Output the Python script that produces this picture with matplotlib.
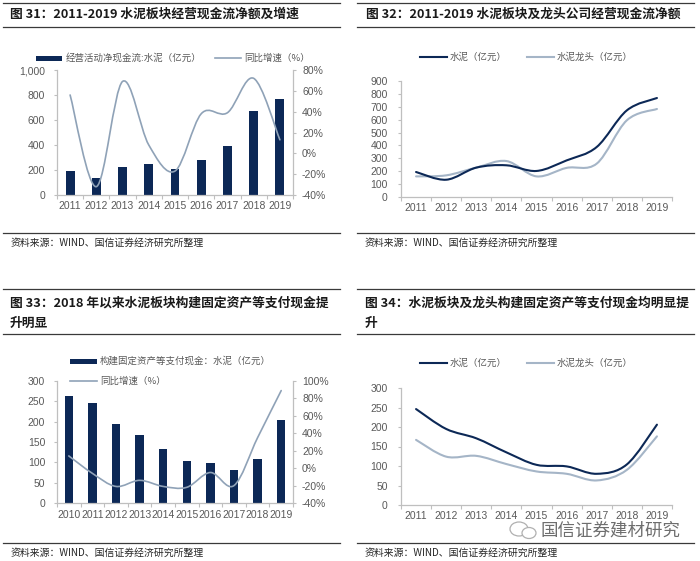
import numpy as np
import matplotlib
matplotlib.use("Agg")
import matplotlib.pyplot as plt
from matplotlib.path import Path
from matplotlib.patches import PathPatch, Rectangle, Ellipse
from matplotlib.lines import Line2D
from matplotlib.ticker import FuncFormatter, MultipleLocator

plt.rcParams['font.family'] = ['Liberation Sans', 'Noto Sans CJK SC', 'DejaVu Sans']

# ---------------- data ----------------
years_a = ['2011', '2012', '2013', '2014', '2015', '2016', '2017', '2018', '2019']
years_b = ['2010', '2011', '2012', '2013', '2014', '2015', '2016', '2017', '2018', '2019']

# Fig 31: operating net cash flow, cement sector (亿元) and YoY growth
ocf_cement = [195, 135, 228, 245, 205, 282, 392, 675, 765]
ocf_growth = [0.56, -0.32, 0.69, 0.08, -0.17, 0.38, 0.39, 0.72, 0.13]

# Fig 32: cement sector vs leaders operating net cash flow
ocf_sector = [194, 134, 228, 246, 202, 284, 388, 672, 768]
ocf_leader = [160, 168, 228, 279, 160, 226, 259, 595, 683]

# Fig 33: cash paid for fixed assets, cement (亿元) and YoY growth
capex_cement = [262, 246, 195, 168, 133, 104, 99, 80, 108, 205]
capex_growth = [0.14, -0.06, -0.21, -0.14, -0.21, -0.22, -0.05, -0.20, 0.35, 0.89]

# Fig 34: cement sector vs leaders capex cash
capex_sector = [246, 195, 171, 135, 103, 99, 80, 104, 206]
capex_leader = [167, 124, 126, 105, 86, 80, 63, 90, 176]

titles = {
    31: ["图 31：2011-2019 水泥板块经营现金流净额及增速"],
    32: ["图 32：2011-2019 水泥板块及龙头公司经营现金流净额"],
    33: ["图 33：2018 年以来水泥板块构建固定资产等支付现金提", "升明显"],
    34: ["图 34：水泥板块及龙头构建固定资产等支付现金均明显提", "升"],
}
source_text = "资料来源：WIND、国信证券经济研究所整理"
watermark = "国信证券建材研究"

# ---------------- style ----------------
W, H = 700, 561
NAVY = '#0C2856'
LIGHT = '#8FA2B7'
LIGHT2 = '#A5B5C7'
TXT = '#595959'
SPINE = '#BFBFBF'
CJK = ['Noto Sans CJK SC', 'DejaVu Sans']

fig = plt.figure(figsize=(W / 100, H / 100), dpi=100)
fig.patch.set_facecolor('white')


def fx(x):
    return x / W


def fy(y):
    return 1 - y / H


def add_axes(l, r, t, b):
    return fig.add_axes([fx(l), fy(b), (r - l) / W, (b - t) / H])


def hline(x0, x1, y, lw=0.9, color='#3A3A3A'):
    fig.add_artist(Line2D([fx(x0), fx(x1)], [fy(y), fy(y)], lw=lw, color=color,
                          transform=fig.transFigure))


def smooth_path(xs, ys):
    pts = np.column_stack([np.asarray(xs, float), np.asarray(ys, float)])
    n = len(pts)
    verts = [pts[0]]
    codes = [Path.MOVETO]
    for i in range(n - 1):
        p0 = pts[i - 1] if i > 0 else pts[i]
        p1 = pts[i]
        p2 = pts[i + 1]
        p3 = pts[i + 2] if i + 2 < n else pts[i + 1]
        c1 = p1 + (p2 - p0) / 6.0
        c2 = p2 - (p3 - p1) / 6.0
        verts += [c1, c2, p2]
        codes += [Path.CURVE4] * 3
    return Path(verts, codes)


def draw_smooth(ax, xs, ys, color, lw):
    ax.add_patch(PathPatch(smooth_path(xs, ys), fill=False, edgecolor=color,
                           lw=lw, capstyle='round', joinstyle='round', zorder=3))


def style_xaxis(ax, labels):
    n = len(labels)
    ax.set_xlim(-0.5, n - 0.5)
    ax.set_xticks(range(n))
    ax.set_xticklabels(labels)
    ax.set_xticks(np.arange(-0.5, n, 1.0), minor=True)
    ax.tick_params(axis='x', which='major', length=0, pad=4, labelsize=7.5, labelcolor=TXT)
    ax.tick_params(axis='x', which='minor', length=3, width=0.8, color=SPINE, direction='out')


def style_spines(ax, right=False):
    for s in ['top', 'right']:
        ax.spines[s].set_visible(False)
    for s in ['left', 'bottom']:
        ax.spines[s].set_color(SPINE)
        ax.spines[s].set_linewidth(0.9)
    ax.tick_params(axis='y', length=2.5, width=0.8, color=SPINE, pad=6,
                   labelsize=7.5, labelcolor=TXT, direction='out')
    ax.set_facecolor('none')


def titles_block(x0, x1, tx, key, two_line):
    if not two_line:
        hline(x0, x1, 2.5)
        fig.text(fx(tx), fy(14.5), titles[key][0], fontsize=9.2, fontweight='bold',
                 family=CJK, color='#1A1A1A', va='center', ha='left')
        hline(x0, x1, 27)
    else:
        hline(x0, x1, 289)
        fig.text(fx(tx), fy(303), titles[key][0], fontsize=9.2, fontweight='bold',
                 family=CJK, color='#1A1A1A', va='center', ha='left')
        fig.text(fx(tx), fy(323), titles[key][1], fontsize=9.2, fontweight='bold',
                 family=CJK, color='#1A1A1A', va='center', ha='left')
        hline(x0, x1, 334)


def source_block(x0, x1, y_line, y_text, tx):
    hline(x0, x1, y_line, lw=0.9)
    fig.text(fx(tx), fy(y_text), source_text, fontsize=7.1, family=CJK,
             color='#262626', va='center', ha='left')


def leg_line(x0, x1, y, color, lw, label, tx):
    fig.add_artist(Line2D([fx(x0), fx(x1)], [fy(y), fy(y)], lw=lw, color=color,
                          transform=fig.transFigure))
    fig.text(fx(tx), fy(y), label, fontsize=6.8, family=CJK, color=TXT,
             va='center', ha='left')


def leg_bar(x0, x1, y, label, tx):
    fig.add_artist(Rectangle((fx(x0), fy(y + 2.5)), (x1 - x0) / W, 5 / H,
                             facecolor=NAVY, edgecolor='none', transform=fig.transFigure))
    fig.text(fx(tx), fy(y), label, fontsize=6.8, family=CJK, color=TXT,
             va='center', ha='left')


pct_fmt = FuncFormatter(lambda v, p: f"{v * 100:.0f}%")
comma_fmt = FuncFormatter(lambda v, p: f"{v:,.0f}")

# ---------------- Fig 31 ----------------
titles_block(3, 340, 10, 31, False)
ax1 = add_axes(57, 293, 70, 195)
style_spines(ax1)
x = np.arange(len(years_a))
ax1.bar(x, ocf_cement, width=0.34, color=NAVY, zorder=2)
ax1.set_ylim(0, 1000)
ax1.yaxis.set_major_locator(MultipleLocator(200))
ax1.yaxis.set_major_formatter(comma_fmt)
style_xaxis(ax1, years_a)
ax1r = ax1.twinx()
ax1r.set_ylim(-0.4, 0.8)
ax1r.yaxis.set_major_locator(MultipleLocator(0.2))
ax1r.yaxis.set_major_formatter(pct_fmt)
for s in ['top', 'left', 'bottom']:
    ax1r.spines[s].set_visible(False)
ax1r.spines['right'].set_color(SPINE)
ax1r.spines['right'].set_linewidth(0.9)
ax1r.tick_params(axis='y', length=2.5, width=0.8, color=SPINE, pad=4,
                 labelsize=7.5, labelcolor=TXT)
draw_smooth(ax1r, x, ocf_growth, LIGHT, 1.2)
leg_bar(36, 62, 58, "经营活动净现金流:水泥（亿元）", 66)
leg_line(215, 241, 58, LIGHT, 1.2, "同比增速（%）", 244)
source_block(3, 340, 233, 243, 11)

# ---------------- Fig 32 ----------------
titles_block(357, 694, 366, 32, False)
ax2 = add_axes(401, 672, 81, 197)
style_spines(ax2)
x = np.arange(len(years_a))
draw_smooth(ax2, x, ocf_leader, LIGHT2, 1.5)
draw_smooth(ax2, x, ocf_sector, NAVY, 1.5)
ax2.set_ylim(0, 900)
ax2.yaxis.set_major_locator(MultipleLocator(100))
style_xaxis(ax2, years_a)
ax2.tick_params(axis='y', pad=7)
leg_line(420, 447, 57, NAVY, 1.5, "水泥（亿元）", 450)
leg_line(527, 554, 57, LIGHT2, 1.5, "水泥龙头（亿元）", 557)
source_block(357, 694, 233, 243, 365)

# ---------------- Fig 33 ----------------
titles_block(3, 340, 10, 33, True)
ax3 = add_axes(57, 293, 381, 503)
style_spines(ax3)
xb = np.arange(len(years_b))
ax3.bar(xb, capex_cement, width=0.35, color=NAVY, zorder=2)
ax3.set_ylim(0, 300)
ax3.yaxis.set_major_locator(MultipleLocator(50))
style_xaxis(ax3, years_b)
ax3.tick_params(axis='x', which='major', pad=5)
ax3r = ax3.twinx()
ax3r.set_ylim(-0.4, 1.0)
ax3r.yaxis.set_major_locator(MultipleLocator(0.2))
ax3r.yaxis.set_major_formatter(pct_fmt)
for s in ['top', 'left', 'bottom']:
    ax3r.spines[s].set_visible(False)
ax3r.spines['right'].set_color(SPINE)
ax3r.spines['right'].set_linewidth(0.9)
ax3r.tick_params(axis='y', length=2.5, width=0.8, color=SPINE, pad=4,
                 labelsize=7.5, labelcolor=TXT)
draw_smooth(ax3r, xb, capex_growth, LIGHT, 1.2)
leg_bar(70, 97, 361, "构建固定资产等支付现金：水泥（亿元）", 100)
leg_line(70, 97, 381, LIGHT, 1.2, "同比增速（%）", 100)
source_block(3, 340, 543, 553, 11)

# ---------------- Fig 34 ----------------
titles_block(357, 694, 365, 34, True)
ax4 = add_axes(401, 672, 388, 505)
style_spines(ax4)
x = np.arange(len(years_a))
draw_smooth(ax4, x, capex_leader, LIGHT2, 1.5)
draw_smooth(ax4, x, capex_sector, NAVY, 1.5)
ax4.set_ylim(0, 300)
ax4.yaxis.set_major_locator(MultipleLocator(50))
style_xaxis(ax4, years_a)
ax4.tick_params(axis='y', pad=7)
leg_line(420, 447, 363, NAVY, 1.5, "水泥（亿元）", 450)
leg_line(527, 554, 363, LIGHT2, 1.5, "水泥龙头（亿元）", 557)
source_block(357, 694, 543, 553, 365)

# watermark with simple chat-bubble icon
fig.add_artist(Ellipse((fx(519), fy(529)), 18 / W, 14 / H, facecolor='none',
                       edgecolor='#B0B0B0', lw=0.9, transform=fig.transFigure))
fig.add_artist(Ellipse((fx(529), fy(533)), 14 / W, 11 / H, facecolor='white',
                       edgecolor='#B0B0B0', lw=0.9, transform=fig.transFigure))
fig.text(fx(541), fy(531), watermark, fontsize=12.6, family=CJK, color='#6E6E6E',
         va='center', ha='left', fontweight='light')

fig.savefig('out.png', dpi=100, facecolor='white')
